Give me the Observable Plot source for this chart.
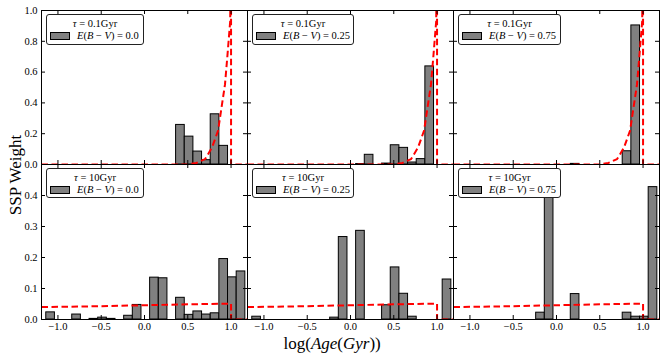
<!DOCTYPE html>
<html>
<head>
<meta charset="utf-8">
<script src="https://cdn.jsdelivr.net/npm/d3@7"></script>
<script src="https://cdn.jsdelivr.net/npm/@observablehq/plot@0.6"></script>
<style>
  body { margin: 0; background: #fff; }
  #fig { position: relative; width: 664px; height: 358px; overflow: hidden; font-family: "Liberation Serif", "DejaVu Serif", serif; color: #000; }
  #fig svg, #fig svg text { font-family: "Liberation Serif", "DejaVu Serif", serif !important; }
  .panel { position: absolute; }
  .legend { position: absolute; background: #fff; border: 1px solid #222; border-radius: 3px; box-sizing: border-box; font-size: 10.5px; font-family: "Liberation Serif", serif; }
  .legend .l1 { position: absolute; left: 0; right: 0; text-align: center; line-height: 12px; }
  .legend .patch { position: absolute; background: #808080; border: 1px solid #000; box-sizing: border-box; }
  .legend .l2 { position: absolute; line-height: 12px; white-space: nowrap; }
  .axlabel { position: absolute; font-size: 17px; white-space: nowrap; line-height: 18px; }
</style>
</head>
<body>
<div id="fig"></div>
<script>
// ---------- data ----------
const xTicks = [-1.0, -0.5, 0.0, 0.5, 1.0];
const yTicksTop = [0.0, 0.2, 0.4, 0.6, 0.8, 1.0];
const yTicksBottom = [0.0, 0.1, 0.2, 0.3, 0.4, 0.5];
const yLabelsTop = [0.0, 0.2, 0.4, 0.6, 0.8, 1.0];
const yLabelsBottom = [0.0, 0.1, 0.2, 0.3, 0.4];
const tauLabels = ["0.1", "10"];
const ebvLabels = ["0.0", "0.25", "0.75"];
const binWidth = 0.1;

// tau = 0.1 Gyr
const agesT0 = [0.415, 0.515, 0.615, 0.715, 0.815, 0.915];
const wT0 = [0.257, 0.181, 0.084, 0.028, 0.326, 0.121];
const agesT1 = [0.115, 0.215, 0.415, 0.515, 0.615, 0.715, 0.815, 0.915];
const wT1 = [0.003, 0.063, 0.006, 0.125, 0.108, 0.013, 0.035, 0.637];
const agesT2 = [0.215, 0.815, 0.915];
const wT2 = [0.004, 0.086, 0.903];

// tau = 10 Gyr
const agesB0 = [-1.085, -0.785, -0.585, -0.485, -0.385, -0.185, -0.085, 0.115, 0.215, 0.415, 0.515, 0.615, 0.715, 0.815, 0.915, 1.015, 1.115];
const wB0 = [0.023, 0.016, 0.002, 0.006, 0.002, 0.012, 0.047, 0.135, 0.133, 0.070, 0.015, 0.026, 0.016, 0.020, 0.195, 0.136, 0.155];
const agesB1 = [-1.085, -0.185, -0.085, 0.115, 0.415, 0.515, 0.615, 0.715, 1.115];
const wB1 = [0.009, 0.006, 0.266, 0.286, 0.046, 0.168, 0.083, 0.009, 0.129];
const agesB2 = [-0.185, -0.085, 0.215, 0.815, 0.915, 1.015, 1.115];
const wB2 = [0.022, 0.470, 0.082, 0.022, 0.009, 0.009, 0.427];

// model SFH curves
const curveTopX = [-1.19, 0.50, 0.60, 0.70, 0.78, 0.85, 0.89, 0.93, 0.96, 0.99, 1.00, 1.00, 1.19];
const curveTopY = [0.0, 0.0, 0.010, 0.035, 0.110, 0.220, 0.370, 0.520, 0.720, 0.930, 1.600, 0.0, 0.0];
const curveBotX = [-1.19, -0.5, 0.0, 0.5, 0.99, 1.00, 1.00, 1.19];
const curveBotY = [0.040, 0.043, 0.046, 0.049, 0.051, 0.051, 0.0, 0.0];

// ---------- layout ----------
const fig = document.getElementById("fig");
const FONT = '"Liberation Serif", "DejaVu Serif", serif';
const W = 206;
const frameLefts = [41, 247, 453];
const rowTops = [10, 164];
const rowHeights = [154, 155];
const legendWidths = [98, 102, 103];

const barsets = [
  [[agesT0, wT0], [agesT1, wT1], [agesT2, wT2]],
  [[agesB0, wB0], [agesB1, wB1], [agesB2, wB2]]
];
const curves = [
  curveTopX.map((x, i) => ({x, y: curveTopY[i]})),
  curveBotX.map((x, i) => ({x, y: curveBotY[i]}))
];

for (let row = 0; row < 2; row++) {
  for (let col = 0; col < 3; col++) {
    const H = rowHeights[row];
    const ml = col === 0 ? 41 : 0;
    const mb = row === 1 ? 24 : 0;
    const [ages, ws] = barsets[row][col];
    const bars = ages.map((a, i) => ({a, w: ws[i]}));
    const yTicks = row === 0 ? yTicksTop : yTicksBottom;
    const yLabels = row === 0 ? yLabelsTop : yLabelsBottom;
    const marks = [
      Plot.rectY(bars, {x1: d => d.a - binWidth / 2, x2: d => d.a + binWidth / 2, y: "w", fill: "#808080", stroke: "#000", strokeWidth: 1}),
      Plot.line(curves[row], {x: "x", y: "y", stroke: "#ff0000", strokeWidth: 2, strokeDasharray: "6.5,3.5", strokeLinecap: "butt", strokeLinejoin: "miter", clip: true}),
      Plot.tickY(yTicks, {y: d => d, insetRight: W - 4, stroke: "#000"}),
      Plot.tickY(yTicks, {y: d => d, insetLeft: W - 4, stroke: "#000"}),
      Plot.tickX(xTicks, {x: d => d, insetBottom: H - 4, stroke: "#000"}),
      Plot.tickX(xTicks, {x: d => d, insetTop: H - 4, stroke: "#000"}),
      Plot.frame({stroke: "#000", strokeWidth: 1})
    ];
    if (col === 0) marks.push(Plot.axisY({ticks: yLabels, tickSize: 0, tickPadding: 4, tickFormat: ".1f", label: null, fontFamily: FONT}));
    if (row === 1) marks.push(Plot.axisX({ticks: xTicks, tickSize: 0, tickPadding: 3, tickFormat: ".1f", label: null, fontFamily: FONT}));
    const svg = Plot.plot({
      width: W + ml,
      height: H + mb,
      marginLeft: ml, marginRight: 0, marginTop: 0, marginBottom: mb,
      x: {domain: [-1.19, 1.19], axis: null},
      y: {domain: row === 0 ? [0, 1] : [0, 0.5], axis: null},
      style: {background: "transparent", overflow: "visible", fontFamily: FONT, fontSize: "10.5px", color: "#000"},
      marks
    });
    svg.classList.add("panel");
    svg.style.left = (frameLefts[col] - ml) + "px";
    svg.style.top = rowTops[row] + "px";
    svg.style.position = "absolute";
    fig.appendChild(svg);

    // legend
    const lg = document.createElement("div");
    lg.className = "legend";
    lg.style.left = (frameLefts[col] + 5) + "px";
    lg.style.top = (rowTops[row] + 4) + "px";
    lg.style.width = legendWidths[col] + "px";
    lg.style.height = (row === 0 ? 31 : 30) + "px";
    lg.innerHTML =
      `<div class="l1" style="top:3px"><i>τ</i> = ${tauLabels[row]}Gyr</div>` +
      `<div class="patch" style="left:3px;top:17px;width:20px;height:8px"></div>` +
      `<div class="l2" style="left:30px;top:15px"><i>E</i>(<i>B</i> − <i>V</i>) = ${ebvLabels[col]}</div>`;
    fig.appendChild(lg);
  }
}

// axis titles
const xl = document.createElement("div");
xl.className = "axlabel";
xl.innerHTML = "log(<i>Age</i>(<i>Gyr</i>))";
fig.appendChild(xl);
xl.style.left = (332 - xl.offsetWidth / 2) + "px";
xl.style.top = (344 - 9) + "px";

const yl = document.createElement("div");
yl.className = "axlabel";
yl.textContent = "SSP Weight";
fig.appendChild(yl);
yl.style.left = (15.5 - yl.offsetWidth / 2) + "px";
yl.style.top = (175 - 9) + "px";
yl.style.transform = "rotate(-90deg)";
</script>
</body>
</html>
